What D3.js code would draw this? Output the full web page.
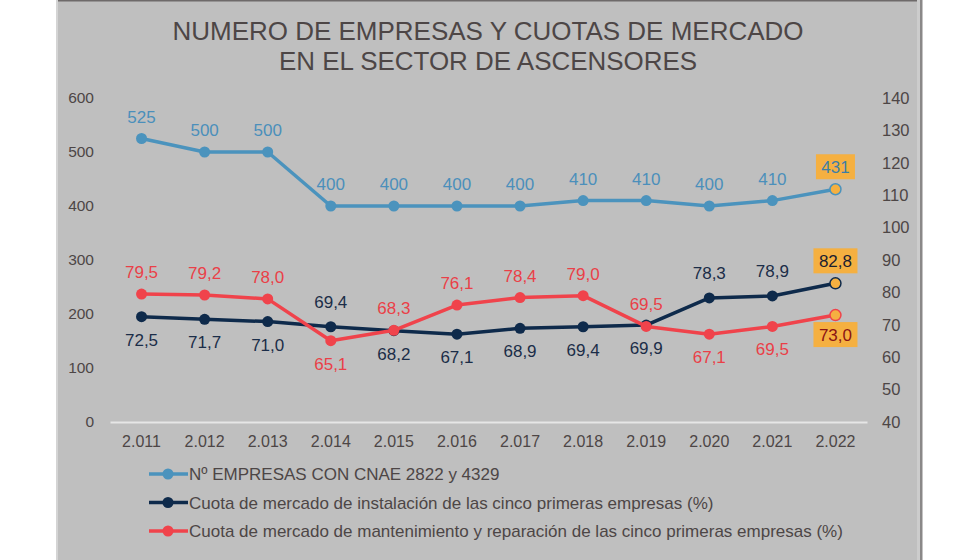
<!DOCTYPE html>
<html><head><meta charset="utf-8">
<script src="https://cdn.jsdelivr.net/npm/d3@7"></script>
<style>
body{margin:0;background:#fff;}
svg{display:block;}
text{font-family:"Liberation Sans",Arial,sans-serif;}
</style></head>
<body>
<svg id="c" width="980" height="560"></svg>
<script>
const years = ["2.011","2.012","2.013","2.014","2.015","2.016","2.017","2.018","2.019","2.020","2.021","2.022"];
const empresas = [525,500,500,400,400,400,400,410,410,400,410,431];
const instalacion = [72.5,71.7,71.0,69.4,68.2,67.1,68.9,69.4,69.9,78.3,78.9,82.8];
const mantenimiento = [79.5,79.2,78.0,65.1,68.3,76.1,78.4,79.0,69.5,67.1,69.5,73.0];
// label placement: -1 above, 1 below
const instPos = [1,1,1,-1,1,1,1,1,1,-1,-1,-1];
const mantPos = [-1,-1,-1,1,-1,-1,-1,-1,-1,1,1,1];
const leftTicks = [0,100,200,300,400,500,600];
const rightTicks = [40,50,60,70,80,90,100,110,120,130,140];
const titleLines = ["NUMERO DE EMPRESAS Y CUOTAS DE MERCADO","EN EL SECTOR DE ASCENSORES"];
const legendLabels = ["Nº EMPRESAS CON CNAE 2822 y 4329",
  "Cuota de mercado de instalación de las cinco primeras empresas (%)",
  "Cuota de mercado de mantenimiento y reparación de las cinco primeras empresas (%)"];

const svg = d3.select("#c");
// panel
svg.append("rect").attr("x",56).attr("y",0).attr("width",866).attr("height",560).attr("fill","#bfbfbf");
svg.append("rect").attr("x",56).attr("y",0).attr("width",866).attr("height",1.5).attr("fill","#6e6a6a");
svg.append("rect").attr("x",56).attr("y",0).attr("width",2).attr("height",560).attr("fill","#d4d4d4");
svg.append("rect").attr("x",917).attr("y",0).attr("width",3).attr("height",560).attr("fill","#cccccc");
svg.append("rect").attr("x",920).attr("y",0).attr("width",2.5).attr("height",560).attr("fill","#8a8888");

const titleW = [631,418];
const title = svg.append("text").attr("text-anchor","middle")
  .attr("fill","#4d4646").style("font-size","26px");
titleLines.forEach((t,i)=>title.append("tspan").attr("x",488).attr("y",40+i*29.5)
  .attr("textLength",titleW[i]).attr("lengthAdjust","spacingAndGlyphs").text(t));

const x = d3.scaleBand().domain(years).range([110,867]);
const yL = d3.scaleLinear().domain([0,600]).range([422,98]);
const yR = d3.scaleLinear().domain([40,140]).range([422,98]);
const cx = d => x(d)+x.bandwidth()/2;

// axes
const gl = svg.append("g").attr("transform","translate(110,0)")
  .call(d3.axisLeft(yL).tickValues(leftTicks).tickSize(0).tickPadding(16));
gl.select(".domain").remove();
gl.selectAll("text").attr("fill","#4d4646").style("font-size","15.5px");
const gr = svg.append("g").attr("transform","translate(867,0)")
  .call(d3.axisRight(yR).tickValues(rightTicks).tickSize(0).tickPadding(15));
gr.select(".domain").remove();
gr.selectAll("text").attr("fill","#4d4646").style("font-size","16.5px");
const gb = svg.append("g").attr("transform","translate(0,422)")
  .call(d3.axisBottom(x).tickSize(0).tickPadding(14));
gb.select(".domain").attr("stroke","#e6e6e6").attr("stroke-width",2);
gb.selectAll("text").attr("fill","#4d4646").style("font-size","16px");

const hl = "#f5b041";
function series(vals, yS, color, labelColor, pos, lastText, aboveOff, belowOff, lastOff){
  const line = d3.line().x((d,i)=>cx(years[i])).y(d=>yS(d));
  svg.append("path").datum(vals).attr("d",line).attr("fill","none")
    .attr("stroke",color).attr("stroke-width",3.5).attr("stroke-linejoin","round");
  svg.selectAll(null).data(vals).enter().append("circle")
    .attr("cx",(d,i)=>cx(years[i])).attr("cy",d=>yS(d)).attr("r",5.5)
    .attr("fill",(d,i)=>i===vals.length-1?hl:color)
    .attr("stroke",color).attr("stroke-width",(d,i)=>i===vals.length-1?1.5:0);
  vals.forEach((d,i)=>{
    const px = cx(years[i]);
    const last = i===vals.length-1;
    const base = yS(d) + (last ? lastOff : (pos[i]<0 ? -aboveOff : belowOff));
    const txt = (yS===yL) ? String(d) : d.toFixed(1).replace(".",",");
    if(last){
      const w = txt.length>3?44:39;
      svg.append("rect").attr("x",px-w/2).attr("y",base-19).attr("width",w).attr("height",25).attr("fill",hl);
    }
    svg.append("text").attr("x",px).attr("y",base).attr("text-anchor","middle")
      .attr("fill",last?lastText:labelColor).style("font-size","17px").text(txt);
  });
}
series(empresas, yL, "#4b93bd", "#4b8fbb", empresas.map(()=>-1), "#3d7ea6", 16, 29, -16);
series(instalacion, yR, "#0e2a4b", "#1b2d48", instPos, "#1b2030", 19, 29, -16);
series(mantenimiento, yR, "#f0434b", "#ea3f48", mantPos, "#8a1414", 16, 29, 26);

const legColors = ["#4b93bd","#0e2a4b","#f0434b"];
legendLabels.forEach((t,i)=>{
  const y = 474 + i*28.5;
  svg.append("line").attr("x1",149).attr("x2",188).attr("y1",y).attr("y2",y)
    .attr("stroke",legColors[i]).attr("stroke-width",3.5);
  svg.append("circle").attr("cx",168).attr("cy",y).attr("r",5.5).attr("fill",legColors[i]);
  svg.append("text").attr("x",189).attr("y",y+6)
    .attr("fill","#4d4646").style("font-size","17px").text(t);
});
</script>
</body></html>
